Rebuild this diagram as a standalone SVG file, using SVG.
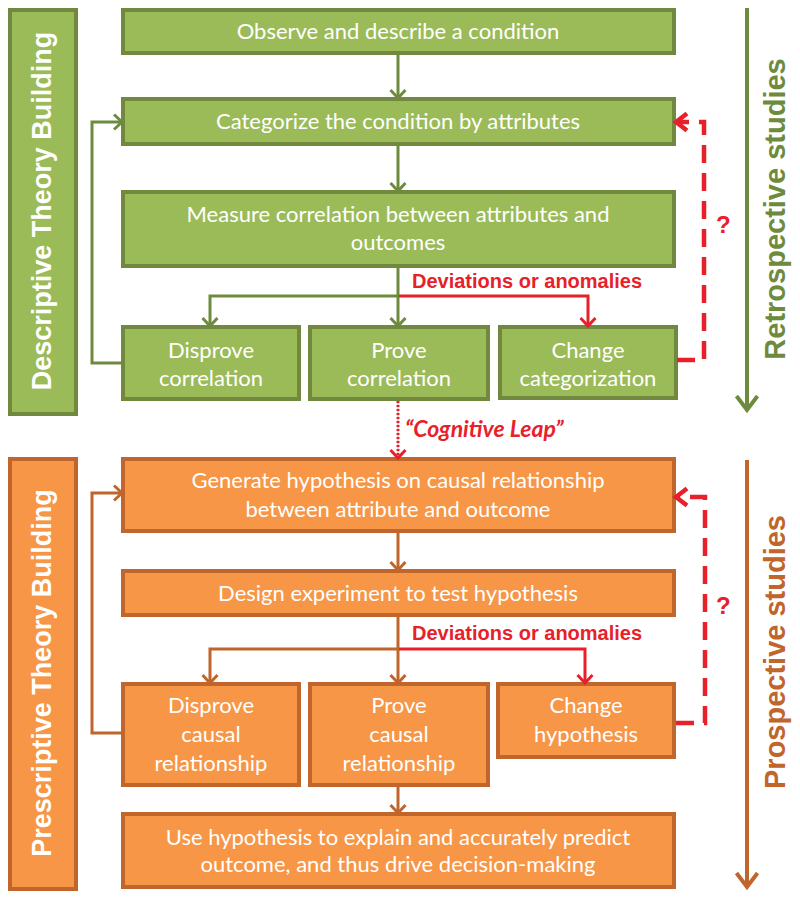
<svg xmlns="http://www.w3.org/2000/svg" width="800" height="900" viewBox="0 0 800 900">
<defs>
<style>
.gbox{fill:#9BBB59;stroke:#71893F;stroke-width:4}
.obox{fill:#F79646;stroke:#C0652B;stroke-width:4}
.bt{font-family:Lato,"Open Sans",sans-serif;font-size:22px;fill:#fff;text-anchor:middle}
.side{font-family:"Liberation Sans",Arial,sans-serif;font-size:27px;font-weight:bold;fill:#fff;text-anchor:middle}
.rside{font-family:"Liberation Sans",Arial,sans-serif;font-size:29px;font-weight:bold;text-anchor:middle}
.red{font-family:"Liberation Sans",Arial,sans-serif;font-size:20px;font-weight:bold;fill:#E8202A}
.q{font-family:"Liberation Sans",Arial,sans-serif;font-size:24px;font-weight:bold;fill:#E8202A}
.gl{fill:none;stroke:#6E8B3D;stroke-width:3}
.ol{fill:none;stroke:#C0652B;stroke-width:3}
.rl{fill:none;stroke:#E8202A;stroke-width:3}
.rd{fill:none;stroke:#E8202A;stroke-width:4.5;stroke-dasharray:18 10}
</style>
<marker id="ag" markerUnits="userSpaceOnUse" markerWidth="20" markerHeight="20" viewBox="-10 -10 20 20" refX="-1" refY="0" orient="auto"><path d="M-8,-7.5 L0,0 L-8,7.5" fill="none" stroke="#6E8B3D" stroke-width="3"/></marker>
<marker id="ao" markerUnits="userSpaceOnUse" markerWidth="20" markerHeight="20" viewBox="-10 -10 20 20" refX="-1" refY="0" orient="auto"><path d="M-8,-7.5 L0,0 L-8,7.5" fill="none" stroke="#C0652B" stroke-width="3"/></marker>
<marker id="ar" markerUnits="userSpaceOnUse" markerWidth="20" markerHeight="20" viewBox="-10 -10 20 20" refX="-1" refY="0" orient="auto"><path d="M-8,-7.5 L0,0 L-8,7.5" fill="none" stroke="#E8202A" stroke-width="3"/></marker>
<marker id="ard" markerUnits="userSpaceOnUse" markerWidth="26" markerHeight="26" viewBox="-13 -13 26 26" refX="-1" refY="0" orient="auto"><path d="M-11,-8.5 L0,0 L-11,8.5" fill="none" stroke="#E8202A" stroke-width="4.5"/></marker>
<marker id="bg" markerUnits="userSpaceOnUse" markerWidth="30" markerHeight="30" viewBox="-15 -15 30 30" refX="-2" refY="0" orient="auto"><path d="M-14,-10.5 L0,0 L-14,10.5" fill="none" stroke="#6E8B3D" stroke-width="4"/></marker>
<marker id="bo" markerUnits="userSpaceOnUse" markerWidth="30" markerHeight="30" viewBox="-15 -15 30 30" refX="-2" refY="0" orient="auto"><path d="M-14,-10.5 L0,0 L-14,10.5" fill="none" stroke="#C0652B" stroke-width="4"/></marker>
</defs>
<rect width="800" height="900" fill="#fff"/>

<g id="desc-bar"><rect class="gbox" x="10" y="10" width="66" height="404"/><text class="side" transform="translate(51,211) rotate(-90)">Descriptive Theory Building</text></g>
<g id="presc-bar"><rect class="obox" x="10" y="459" width="66" height="430"/><text class="side" transform="translate(51,673) rotate(-90)">Prescriptive Theory Building</text></g>

<g id="retro"><line x1="747" y1="8" x2="747" y2="408" stroke="#6E8B3D" stroke-width="4" marker-end="url(#bg)"/><text class="rside" fill="#6E8B3D" transform="translate(785,209) rotate(-90)">Retrospective studies</text></g>
<g id="prosp"><line x1="747" y1="460" x2="747" y2="885" stroke="#C0652B" stroke-width="4" marker-end="url(#bo)"/><text class="rside" fill="#C0652B" transform="translate(785,652) rotate(-90)">Prospective studies</text></g>

<g id="n-observe"><rect class="gbox" x="123" y="10" width="551" height="43"/><text class="bt" x="398" y="39">Observe and describe a condition</text></g>
<g id="n-categorize"><rect class="gbox" x="123" y="99" width="551" height="45"/><text class="bt" x="398" y="129">Categorize the condition by attributes</text></g>
<g id="n-measure"><rect class="gbox" x="123" y="192" width="551" height="74"/><text class="bt" x="398" y="222">Measure correlation between attributes and</text><text class="bt" x="398" y="250">outcomes</text></g>
<g id="n-disprove-corr"><rect class="gbox" x="123" y="327" width="176" height="72"/><text class="bt" x="211" y="358">Disprove</text><text class="bt" x="211" y="386">correlation</text></g>
<g id="n-prove-corr"><rect class="gbox" x="310" y="327" width="178" height="72"/><text class="bt" x="399" y="358">Prove</text><text class="bt" x="399" y="386">correlation</text></g>
<g id="n-change-cat"><rect class="gbox" x="500" y="327" width="176" height="71"/><text class="bt" x="588" y="358">Change</text><text class="bt" x="588" y="386">categorization</text></g>

<g id="n-generate"><rect class="obox" x="123" y="459" width="551" height="72"/><text class="bt" x="398" y="488">Generate hypothesis on causal relationship</text><text class="bt" x="398" y="517">between attribute and outcome</text></g>
<g id="n-design"><rect class="obox" x="123" y="571" width="551" height="44"/><text class="bt" x="398" y="601">Design experiment to test hypothesis</text></g>
<g id="n-disprove-causal"><rect class="obox" x="123" y="684" width="176" height="101"/><text class="bt" x="211" y="713">Disprove</text><text class="bt" x="211" y="742">causal</text><text class="bt" x="211" y="771">relationship</text></g>
<g id="n-prove-causal"><rect class="obox" x="310" y="684" width="178" height="101"/><text class="bt" x="399" y="713">Prove</text><text class="bt" x="399" y="742">causal</text><text class="bt" x="399" y="771">relationship</text></g>
<g id="n-change-hyp"><rect class="obox" x="498" y="684" width="176" height="73"/><text class="bt" x="586" y="713">Change</text><text class="bt" x="586" y="742">hypothesis</text></g>
<g id="n-use"><rect class="obox" x="123" y="814" width="551" height="73"/><text class="bt" x="398" y="845">Use hypothesis to explain and accurately predict</text><text class="bt" x="398" y="872">outcome, and thus drive decision-making</text></g>

<g id="connectors">
<line class="gl" x1="398" y1="54" x2="398" y2="97" marker-end="url(#ag)"/>
<line class="gl" x1="398" y1="145" x2="398" y2="190" marker-end="url(#ag)"/>
<line class="gl" x1="398" y1="267" x2="398" y2="325" marker-end="url(#ag)"/>
<polyline class="gl" points="398,296 210,296 210,325" marker-end="url(#ag)"/>
<polyline class="rl" points="399,296 588,296 588,325" marker-end="url(#ar)"/>
<polyline class="gl" points="121,363 92,363 92,122 121,122" marker-end="url(#ag)"/>
<polyline class="rd" points="677,360 704,360 704,122 677,122" marker-end="url(#ard)"/>
<line x1="398" y1="401" x2="398" y2="456" stroke="#E8202A" stroke-width="3" stroke-dasharray="2 2"/>
<line x1="398" y1="401" x2="398" y2="456" stroke="#C9A9A9" stroke-width="1" stroke-dasharray="2 2" stroke-dashoffset="2"/>
<line x1="398" y1="445" x2="398" y2="457" stroke="none" marker-end="url(#ar)"/>
<line class="ol" x1="398" y1="532" x2="398" y2="569" marker-end="url(#ao)"/>
<line class="ol" x1="398" y1="616" x2="398" y2="682" marker-end="url(#ao)"/>
<polyline class="ol" points="398,649 210,649 210,682" marker-end="url(#ao)"/>
<polyline class="rl" points="399,649 585,649 585,682" marker-end="url(#ar)"/>
<polyline class="ol" points="121,733 92,733 92,493 121,493" marker-end="url(#ao)"/>
<polyline class="rd" points="676,723 705,723 705,497 677,497" marker-end="url(#ard)"/>
<line class="ol" x1="398" y1="786" x2="398" y2="812" marker-end="url(#ao)"/>
</g>

<g id="labels">
<text class="red" x="412" y="288">Deviations or anomalies</text>
<text class="red" x="412" y="640">Deviations or anomalies</text>
<text x="405" y="437" font-family="Lato,'Open Sans',sans-serif" font-size="23" font-weight="bold" font-style="italic" fill="#E8202A">“Cognitive Leap”</text>
<text class="q" x="716" y="233">?</text>
<text class="q" x="716" y="614">?</text>
</g>
</svg>
